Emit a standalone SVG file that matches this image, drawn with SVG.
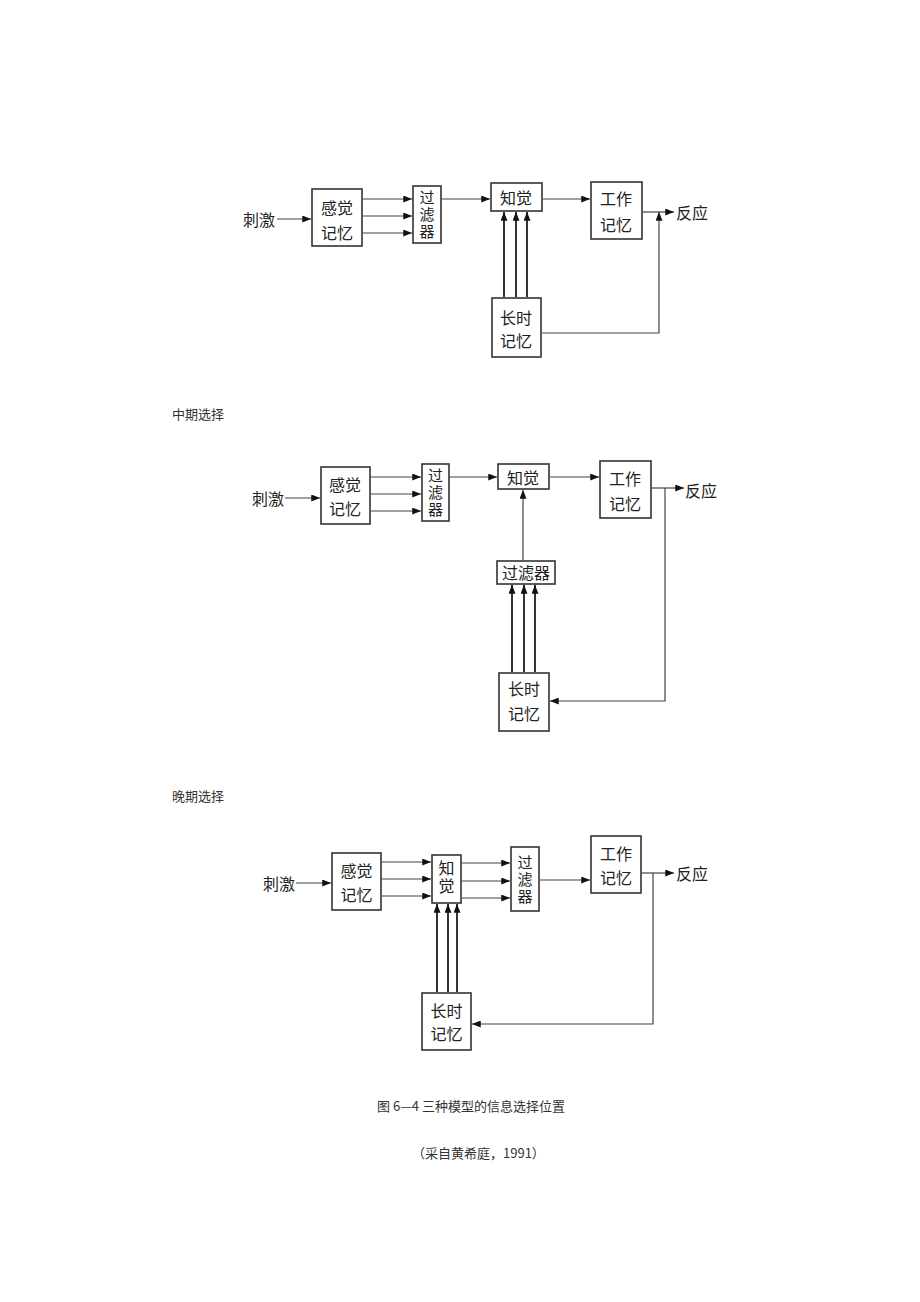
<svg xmlns="http://www.w3.org/2000/svg" width="920" height="1302" viewBox="0 0 920 1302">
<defs>
<marker id="ah" viewBox="0 0 10 8" refX="10" refY="4" markerWidth="10" markerHeight="7" orient="auto" markerUnits="userSpaceOnUse">
<path d="M0,0 L10,4 L0,8 z" fill="#111"/>
</marker>
</defs>
<style>
.box{fill:#fff;stroke:#333;stroke-width:1.6}
.t{font-family:"Noto Sans CJK SC","Noto Sans",sans-serif;font-size:16px;fill:#222;text-anchor:middle;dominant-baseline:central}
.v{font-family:"Noto Sans CJK SC","Noto Sans",sans-serif;font-size:15px;fill:#222;text-anchor:middle;writing-mode:vertical-rl;text-orientation:upright;letter-spacing:2px}
.tl{font-family:"Noto Sans CJK SC","Noto Sans",sans-serif;font-size:16px;fill:#222;dominant-baseline:central}
.cap{font-family:"Noto Sans CJK SC","Noto Sans",sans-serif;font-size:13px;fill:#333;dominant-baseline:central}
.ar{fill:none;stroke:#444;stroke-width:1.2;marker-end:url(#ah)}
.arb{fill:none;stroke:#333;stroke-width:2;marker-end:url(#ah)}
</style>
<rect width="920" height="1302" fill="#fff"/>

<!-- ===== Diagram 1 (early selection) ===== -->
<g id="d1-stim"><text class="tl" x="243" y="219">刺激</text></g>
<g id="d1-sensory"><rect class="box" x="312" y="189" width="50" height="57"/><text class="t" x="337" y="207">感觉</text><text class="t" x="337" y="232">记忆</text></g>
<g id="d1-filter"><rect class="box" x="413" y="186" width="28" height="57"/><text class="v" x="427" y="215">过滤器</text></g>
<g id="d1-percept"><rect class="box" x="491" y="183" width="51" height="28"/><text class="t" x="516" y="197">知觉</text></g>
<g id="d1-wm"><rect class="box" x="591" y="182" width="51" height="57"/><text class="t" x="616" y="198">工作</text><text class="t" x="616" y="224">记忆</text></g>
<g id="d1-ltm"><rect class="box" x="492" y="298" width="49" height="59"/><text class="t" x="516" y="317">长时</text><text class="t" x="516" y="340">记忆</text></g>
<g id="d1-resp"><text class="tl" x="676" y="212">反应</text></g>

<!-- ===== Diagram 2 (middle selection) ===== -->
<g id="lbl-mid"><text class="cap" x="172" y="413">中期选择</text></g>
<g id="d2-stim"><text class="tl" x="252" y="498">刺激</text></g>
<g id="d2-sensory"><rect class="box" x="321" y="467" width="49" height="57"/><text class="t" x="345" y="484">感觉</text><text class="t" x="345" y="508">记忆</text></g>
<g id="d2-filter"><rect class="box" x="422" y="464" width="27" height="57"/><text class="v" x="435.5" y="493">过滤器</text></g>
<g id="d2-percept"><rect class="box" x="498" y="464" width="51" height="25"/><text class="t" x="523" y="477">知觉</text></g>
<g id="d2-wm"><rect class="box" x="600" y="461" width="51" height="57"/><text class="t" x="625" y="478">工作</text><text class="t" x="625" y="503">记忆</text></g>
<g id="d2-filter2"><rect class="box" x="497" y="561" width="58" height="23"/><text class="t" x="526" y="572">过滤器</text></g>
<g id="d2-ltm"><rect class="box" x="499" y="673" width="50" height="58"/><text class="t" x="524" y="688">长时</text><text class="t" x="524" y="713">记忆</text></g>
<g id="d2-resp"><text class="tl" x="685" y="490">反应</text></g>

<!-- ===== Diagram 3 (late selection) ===== -->
<g id="lbl-late"><text class="cap" x="172" y="795">晚期选择</text></g>
<g id="d3-stim"><text class="tl" x="263" y="883">刺激</text></g>
<g id="d3-sensory"><rect class="box" x="332" y="853" width="49" height="57"/><text class="t" x="356.5" y="870">感觉</text><text class="t" x="356.5" y="894">记忆</text></g>
<g id="d3-percept"><rect class="box" x="432" y="855" width="29" height="48"/><text class="v" x="446.5" y="878" style="font-size:16px">知觉</text></g>
<g id="d3-filter"><rect class="box" x="511" y="847" width="28" height="64"/><text class="v" x="525" y="880">过滤器</text></g>
<g id="d3-wm"><rect class="box" x="591" y="836" width="50" height="57"/><text class="t" x="616" y="853">工作</text><text class="t" x="616" y="877">记忆</text></g>
<g id="d3-ltm"><rect class="box" x="422" y="993" width="49" height="57"/><text class="t" x="446.5" y="1010">长时</text><text class="t" x="446.5" y="1033">记忆</text></g>
<g id="d3-resp"><text class="tl" x="676" y="873">反应</text></g>

<!-- captions -->
<g id="caption"><text class="cap" x="377" y="1105">图 6—4 三种模型的信息选择位置</text><text class="cap" x="412" y="1152">（采自黄希庭，1991）</text></g>

<!-- ===== Connectors ===== -->
<g id="connectors">
<!-- d1 -->
<path class="ar" d="M277,219 H311"/>
<path class="ar" d="M363,199 H412"/>
<path class="ar" d="M363,216 H412"/>
<path class="ar" d="M363,233 H412"/>
<path class="ar" d="M442,199 H490"/>
<path class="ar" d="M543,199 H590"/>
<path class="ar" d="M643,212 H674"/>
<path class="ar" d="M542,333 H659 V212"/>
<path class="arb" d="M504,297 V212"/>
<path class="arb" d="M516,297 V212"/>
<path class="arb" d="M527,297 V212"/>
<!-- d2 -->
<path class="ar" d="M285,498 H320"/>
<path class="ar" d="M371,477 H421"/>
<path class="ar" d="M371,494 H421"/>
<path class="ar" d="M371,511 H421"/>
<path class="ar" d="M450,477 H497"/>
<path class="ar" d="M550,477 H599"/>
<path class="ar" d="M652,488 H684"/>
<path class="ar" d="M665,488 V701 H550"/>
<path class="ar" d="M523,560 V490"/>
<path class="arb" d="M512,672 V585"/>
<path class="arb" d="M524,672 V585"/>
<path class="arb" d="M535,672 V585"/>
<!-- d3 -->
<path class="ar" d="M296,883 H331"/>
<path class="ar" d="M382,862 H431"/>
<path class="ar" d="M382,879 H431"/>
<path class="ar" d="M382,896 H431"/>
<path class="ar" d="M462,863 H510"/>
<path class="ar" d="M462,881 H510"/>
<path class="ar" d="M462,898 H510"/>
<path class="ar" d="M540,880 H590"/>
<path class="ar" d="M642,873 H674"/>
<path class="ar" d="M653,873 V1024 H472"/>
<path class="arb" d="M437,992 V904"/>
<path class="arb" d="M448,992 V904"/>
<path class="arb" d="M457,992 V904"/>
</g>
</svg>
